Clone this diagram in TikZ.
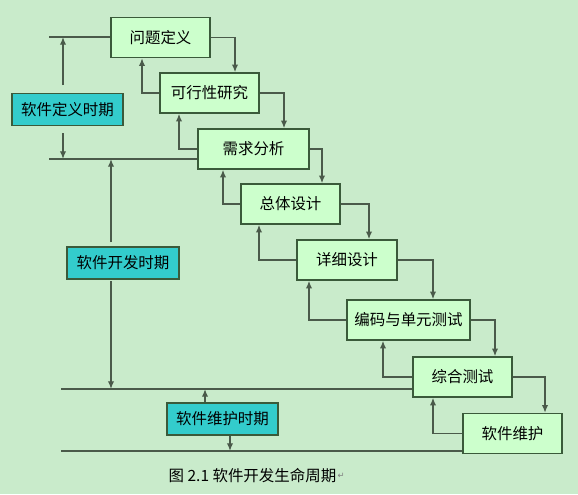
\documentclass[tikz,border=0pt]{standalone}
\usepackage{fontspec}
\newfontfamily\cjk{Noto Sans CJK SC}
\newfontfamily\sym{DejaVu Sans}
\usepackage{tikz}
\usetikzlibrary{arrows.meta}
\definecolor{paper}{HTML}{C9EBCB}
\definecolor{stagefill}{HTML}{CCFFCC}
\definecolor{phasefill}{HTML}{33CCCC}
\definecolor{boxline}{HTML}{3A5A3A}
\definecolor{wire}{HTML}{4A5A4A}
\tikzset{stage/.style={draw=boxline,fill=stagefill,line width=1pt,minimum height=1cm,inner sep=1pt,font=\cjk\fontsize{11}{13}\selectfont}}
\tikzset{phase/.style={draw=boxline,fill=phasefill,line width=1pt,minimum height=0.8cm,inner sep=1pt,font=\cjk\fontsize{11}{13}\selectfont}}
\tikzset{flow/.style={draw=wire,line width=1pt,-{Latex[length=5.5pt,width=4.5pt]}}}
\tikzset{rule/.style={draw=wire,line width=1pt}}

\begin{document}
\begin{tikzpicture}[x=0.025cm,y=-0.025cm]
    \fill[paper] (0,0) rectangle (578,494);
    \useasboundingbox (0,0) rectangle (578,494);
    % stages
    \node[stage,minimum width=2.475cm] (wt) at (160.5,37.5) {问题定义};
    \node[stage,minimum width=2.475cm] (kx) at (209.5,93) {可行性研究};
    \node[stage,minimum width=2.775cm] (xq) at (253.5,149) {需求分析};
    \node[stage,minimum width=2.475cm] (zt) at (290.5,204) {总体设计};
    \node[stage,minimum width=2.5cm] (xx) at (347,260) {详细设计};
    \node[stage,minimum width=3.075cm] (bm) at (408.5,320) {编码与单元测试};
    \node[stage,minimum width=2.475cm] (zh) at (462.5,377) {综合测试};
    \node[stage,minimum width=2.475cm] (rw) at (512.5,433.5) {软件维护};
    % phases
    \node[phase,minimum width=2.775cm] (dy) at (67.5,109.5) {软件定义时期};
    \node[phase,minimum width=2.8cm] (kf) at (123,263) {软件开发时期};
    \node[phase,minimum width=2.775cm] (wh) at (222.5,419) {软件维护时期};
    \foreach \a/\b/\x in {wt/kx/235,kx/xq/284,xq/zt/322,zt/xx/369,xx/bm/433,bm/zh/495,zh/rw/545}
      \draw[flow] (\a.east) -| (\x,0 |- \b.north);
    \foreach \a/\b/\x in {kx/wt/142,xq/kx/179,zt/xq/223,xx/zt/259,bm/xx/309,zh/bm/383,rw/zh/433}
      \draw[flow] (\a.west) -| (\x,0 |- \b.south);
    % phase borders
    \coordinate (l1) at (49,37);
    \coordinate (l2) at (49,159);
    \coordinate (l3) at (61,389);
    \coordinate (l4) at (61,451);
    \draw[rule] (l1) -- (l1 -| wt.west);
    \draw[rule] (l2) -- (l2 -| xq.west);
    \draw[rule] (l3) -- (l3 -| zh.west);
    \draw[rule] (l4) -- (l4 -| rw.west);
    \coordinate (d1) at (63,85);
    \coordinate (d2) at (63,133);
    \coordinate (k1) at (111,242);
    \coordinate (k2) at (111,281);
    \draw[flow] (d1) -- (d1 |- l1);
    \draw[flow] (d2) -- (d2 |- l2);
    \draw[flow] (k1) -- (k1 |- l2);
    \draw[flow] (k2) -- (k2 |- l3);
    \draw[flow] (wh.north -| 205,0) -- (l3 -| 205,0);
    \draw[flow] (wh.south -| 230,0) -- (l4 -| 230,0);
    \node[font=\cjk\fontsize{11}{13}\selectfont,inner sep=0pt] (cap) at (252.5,476) {图 2.1 软件开发生命周期};
    \node[font=\sym\fontsize{6}{7}\selectfont,text=gray,anchor=west,inner sep=0.5pt] (pm) at (cap.east) {↵};
  \end{tikzpicture}
\end{document}
